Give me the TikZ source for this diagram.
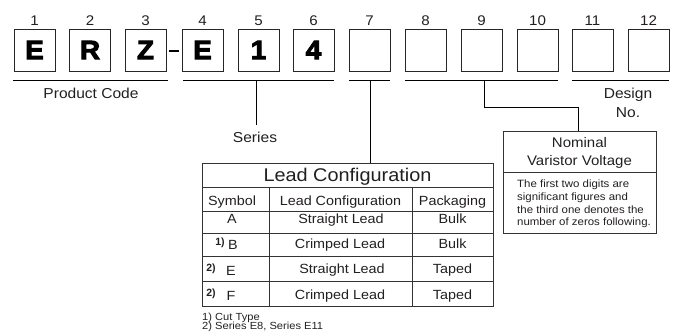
\documentclass[tikz,border=0pt]{standalone}
\usepackage{fontspec}
\setmainfont{Liberation Sans}[FakeStretch=1.08]
\newfontfamily\heavyfont{Liberation Sans Bold}[FakeBold=3.5, FakeStretch=1.05]
\newfontfamily\supfont{Liberation Sans Bold}

\definecolor{inkgray}{HTML}{231F20}

\tikzset{
  digitbox/.style={draw=black!85, line width=0.9pt, minimum width=41pt,
    minimum height=42pt, inner sep=0pt, text=black,
    font=\heavyfont\fontsize{26.5}{26.5}\selectfont},
  numtext/.style={anchor=base, inner sep=0pt, font=\fontsize{14}{14}\selectfont},
  captext/.style={anchor=base, inner sep=0pt, font=\fontsize{14.4}{14.4}\selectfont},
  titletext/.style={anchor=base, inner sep=0pt, font=\fontsize{18.4}{18.4}\selectfont},
  celltext/.style={anchor=base, inner sep=0pt, font=\fontsize{13.3}{13.3}\selectfont},
  suptext/.style={anchor=base, inner sep=0pt, font=\supfont\fontsize{10.5}{10.5}\selectfont},
  notetext/.style={anchor=base west, inner sep=0pt, font=\fontsize{10.6}{10.6}\selectfont},
  foottext/.style={anchor=base west, inner sep=0pt, font=\fontsize{10.3}{10.3}\selectfont},
  leadline/.style={draw=black, line width=0.9pt},
  gridline/.style={draw=black!80, line width=0.8pt}
}

\begin{document}
\begin{tikzpicture}[x=1pt, y=-1pt, text=inkgray]

  \useasboundingbox (0,0) rectangle (673,334);

  % digit boxes with their position numbers
  \foreach \i/\x/\t in {1/34.5/E, 2/90/R, 3/145.5/Z, 4/202.5/E, 5/258.5/1,
      6/313.5/4, 7/369.5/{}, 8/425.5/{}, 9/481.5/{}, 10/537.5/{},
      11/592.5/{}, 12/648.5/{}}{
      \node[digitbox] (b\i) at (\x, 50) {\t};
      \node[numtext] (n\i) at (\x, 26) {\i};
    }

  \draw[line width=2.8pt, shorten <=3pt, shorten >=3pt]
  ([yshift=-1pt]b3.east) -- ([yshift=-1pt]b4.west);

  % underlines
  \coordinate (pc1) at (13, 80);
  \coordinate (pc2) at (168, 80);
  \coordinate (se1) at (183, 80);
  \coordinate (se2) at (334, 80);
  \coordinate (se3) at (256, 80);
  \coordinate (se4) at (256, 125);
  \coordinate (lc1) at (349, 80);
  \coordinate (lc2) at (390, 80);
  \coordinate (lc3) at (370, 80);
  \coordinate (nv1) at (405, 80);
  \coordinate (nv2) at (558, 80);
  \coordinate (nv3) at (484, 80);
  \coordinate (nv4) at (484, 107);
  \coordinate (dn1) at (572, 80);
  \coordinate (dn2) at (669, 80);

  \draw[leadline] (pc1) -- (pc2);
  \draw[leadline] (se1) -- (se2);
  \draw[leadline] (se3) -- (se4);
  \draw[leadline] (lc1) -- (lc2);
  \draw[leadline] (nv1) -- (nv2);
  \draw[leadline] (dn1) -- (dn2);

  \node[captext] (pcode) at (91, 99) {Product Code};
  \node[captext] (series) at (255, 143) {Series};
  \node[captext] (design) at (628, 99) {Design};
  \node[captext] (designno) at (628, 118) {No.};

  % nominal varistor voltage box
  \draw[gridline] (503, 131) rectangle (656, 233);
  \draw[gridline] (503, 172) -- (656, 172);
  \coordinate (nvtop) at (578, 131);
  \draw[leadline] (nv3) -- (nv4) -| (nvtop);

  \node[captext, font=\fontsize{13.9}{13.9}\selectfont] (nom1) at (579.5, 148) {Nominal};
  \node[captext, font=\fontsize{13.9}{13.9}\selectfont] (nom2) at (579.5, 166) {Varistor Voltage};
  \node[notetext] (note1) at (517, 188) {The first two digits are};
  \node[notetext] (note2) at (517, 200.7) {significant figures and};
  \node[notetext] (note3) at (517, 213.3) {the third one denotes the};
  \node[notetext] (note4) at (517, 226) {number of zeros following.};

  % lead configuration table
  \draw[gridline] (202, 163) rectangle (493, 306);
  \foreach \y in {187, 211, 233, 256, 281}{
      \draw[gridline] (202, \y) -- (493, \y);
    }
  \draw[gridline] (269, 187) -- (269, 306);
  \draw[gridline] (412, 187) -- (412, 306);

  \coordinate (lctop) at (370, 163);
  \draw[leadline] (lc3) -- (lctop);

  \node[titletext] (lctitle) at (347.5, 182) {Lead Configuration};
  \node[celltext] (hsym) at (232, 206) {Symbol};
  \node[celltext] (hlead) at (340.5, 206) {Lead Configuration};
  \node[celltext] (hpack) at (452.5, 206) {Packaging};

  \node[celltext] (sa) at (232, 224) {A};
  \node[celltext] (la) at (341, 224) {Straight Lead};
  \node[celltext] (pa) at (452.5, 224) {Bulk};

  \node[celltext] (sb) at (233, 250) {B};
  \node[suptext] (fb) at (220, 246) {1)};
  \node[celltext] (lb) at (340, 249) {Crimped Lead};
  \node[celltext] (pb) at (452.5, 249) {Bulk};

  \node[celltext] (se) at (231, 276) {E};
  \node[suptext] (fe) at (211, 272) {2)};
  \node[celltext] (le) at (342, 274) {Straight Lead};
  \node[celltext] (pe) at (452.5, 274) {Taped};

  \node[celltext] (sf) at (231, 301) {F};
  \node[suptext] (ff) at (211, 297) {2)};
  \node[celltext] (lf) at (340, 300) {Crimped Lead};
  \node[celltext] (pf) at (452.5, 300) {Taped};

  \node[foottext] (foot1) at (202, 320) {1) Cut Type};
  \node[foottext] (foot2) at (202, 330) {2) Series E8, Series E11};

\end{tikzpicture}
\end{document}
